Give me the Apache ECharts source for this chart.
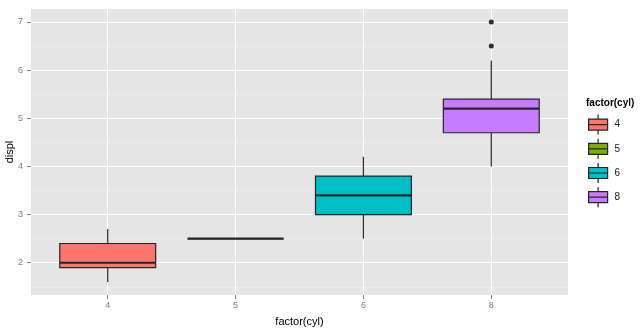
<!DOCTYPE html>
<html>
<head>
<meta charset="utf-8">
<script src="https://cdn.jsdelivr.net/npm/echarts@6/dist/echarts.min.js"></script>
<style>
  html, body { margin: 0; padding: 0; background: #ffffff; }
  #chart { width: 642px; height: 333px; }
</style>
</head>
<body>
<div id="chart"></div>
<script>
// Engine displacement by number of cylinders (mpg data)
const cylinders = ['4', '5', '6', '8'];
const colors = ['#F8766D', '#7CAE00', '#00BFC4', '#C77CFF'];
// five-number summaries: [lower whisker, Q1, median, Q3, upper whisker]
const whiskerLow = [1.6, 2.5, 2.5, 4.0];
const q1 = [1.9, 2.5, 3.0, 4.7];
const medians = [2.0, 2.5, 3.4, 5.2];
const q3 = [2.4, 2.5, 3.8, 5.4];
const whiskerHigh = [2.7, 2.5, 4.2, 6.2];
// outlying points for the 8-cylinder group
const outlierGroup = ['8', '8'];
const outlierValues = [6.5, 7.0];
const yTicks = [2, 3, 4, 5, 6, 7];
const yMinorLines = [1.5, 2.5, 3.5, 4.5, 5.5, 6.5];

const chart = echarts.init(document.getElementById('chart'), null, { renderer: 'canvas' });
const font = 'Liberation Sans, Arial, sans-serif';
const positions = cylinders.map((c, i) => i + 1);
const edge = '#262626';

function renderBox(params, api) {
  const x = api.value(0);
  const lo = api.coord([x, api.value(1)]);
  const b1 = api.coord([x, api.value(2)]);
  const md = api.coord([x, api.value(3)]);
  const b3 = api.coord([x, api.value(4)]);
  const hi = api.coord([x, api.value(5)]);
  const w = api.size([0.75, 0])[0];
  const left = lo[0] - w / 2;
  const line = { stroke: edge, lineWidth: 1.2 };
  return {
    type: 'group',
    children: [
      { type: 'line', shape: { x1: lo[0], y1: lo[1], x2: lo[0], y2: b1[1] }, style: line },
      { type: 'line', shape: { x1: hi[0], y1: hi[1], x2: hi[0], y2: b3[1] }, style: line },
      { type: 'rect', shape: { x: left, y: b3[1], width: w, height: b1[1] - b3[1] },
        style: { fill: api.visual('color'), stroke: edge, lineWidth: 1.2 } },
      { type: 'line', shape: { x1: left, y1: md[1], x2: left + w, y2: md[1] },
        style: { stroke: edge, lineWidth: 2.2 } }
    ]
  };
}

const boxSeries = cylinders.map((c, i) => ({
  name: c,
  type: 'custom',
  renderItem: renderBox,
  itemStyle: { color: colors[i] },
  encode: { x: 0, y: [1, 2, 3, 4, 5] },
  data: [[positions[i], whiskerLow[i], q1[i], medians[i], q3[i], whiskerHigh[i]]],
  z: 10
}));

const option = {
  backgroundColor: '#ffffff',
  animation: false,
  grid: {
    left: 31, right: 74, top: 9, bottom: 38,
    containLabel: false, outerBoundsMode: 'none',
    show: true, backgroundColor: '#E5E5E5', borderWidth: 0
  },
  title: {
    text: 'factor(cyl)', left: 586, top: 98, padding: 0,
    textStyle: { fontFamily: font, fontSize: 10, fontWeight: 'bold', color: '#000000' }
  },
  legend: {
    data: cylinders,
    orient: 'vertical',
    left: 588, top: 114, padding: 0,
    itemWidth: 19, itemHeight: 20, itemGap: 3,
    icon: 'path://M0,4.5L19,4.5L19,15.5L0,15.5Z M0,10L19,10 M9.5,0L9.5,4.5 M9.5,15.5L9.5,20',
    itemStyle: { borderColor: edge, borderWidth: 1.2 },
    textStyle: { fontFamily: font, fontSize: 10, color: '#1a1a1a', padding: [0, 0, 0, 2] },
    selectedMode: false
  },
  xAxis: {
    type: 'value', min: 0.4, max: 4.6,
    name: 'factor(cyl)', nameLocation: 'middle', nameGap: 21, nameMoveOverlap: false,
    nameTextStyle: { fontFamily: font, fontSize: 11, color: '#000000' },
    axisLine: { show: false },
    axisTick: { show: true, customValues: positions, length: 4, lineStyle: { color: '#7F7F7F' } },
    axisLabel: { customValues: positions, margin: 6, fontFamily: font, fontSize: 9, color: '#7F7F7F',
      formatter: v => cylinders[Math.round(v) - 1] },
    splitLine: { show: true, lineStyle: { color: '#ffffff', width: 1 } }
  },
  yAxis: {
    type: 'value', min: 1.33, max: 7.27,
    name: 'displ', nameLocation: 'middle', nameGap: 16, nameRotate: 90, nameMoveOverlap: false,
    nameTextStyle: { fontFamily: font, fontSize: 11, color: '#000000' },
    axisLine: { show: false },
    axisTick: { show: true, customValues: yTicks, length: 4, lineStyle: { color: '#7F7F7F' } },
    axisLabel: { customValues: yTicks, margin: 8, fontFamily: font, fontSize: 9, color: '#7F7F7F' },
    splitLine: { show: true, lineStyle: { color: '#ffffff', width: 1 } }
  },
  series: [
    {
      name: 'minor',
      type: 'line',
      data: [],
      silent: true,
      z: 1,
      markLine: {
        silent: true, symbol: 'none', label: { show: false }, z: 1,
        lineStyle: { color: '#F2F2F2', width: 0.5, type: 'solid' },
        data: yMinorLines.map(v => ({ yAxis: v }))
      }
    },
    ...boxSeries,
    {
      name: 'outliers',
      type: 'scatter',
      symbolSize: 5,
      itemStyle: { color: '#000000' },
      data: outlierValues.map((v, i) => [positions[cylinders.indexOf(outlierGroup[i])], v]),
      z: 12
    }
  ]
};

chart.setOption(option);
</script>
</body>
</html>
